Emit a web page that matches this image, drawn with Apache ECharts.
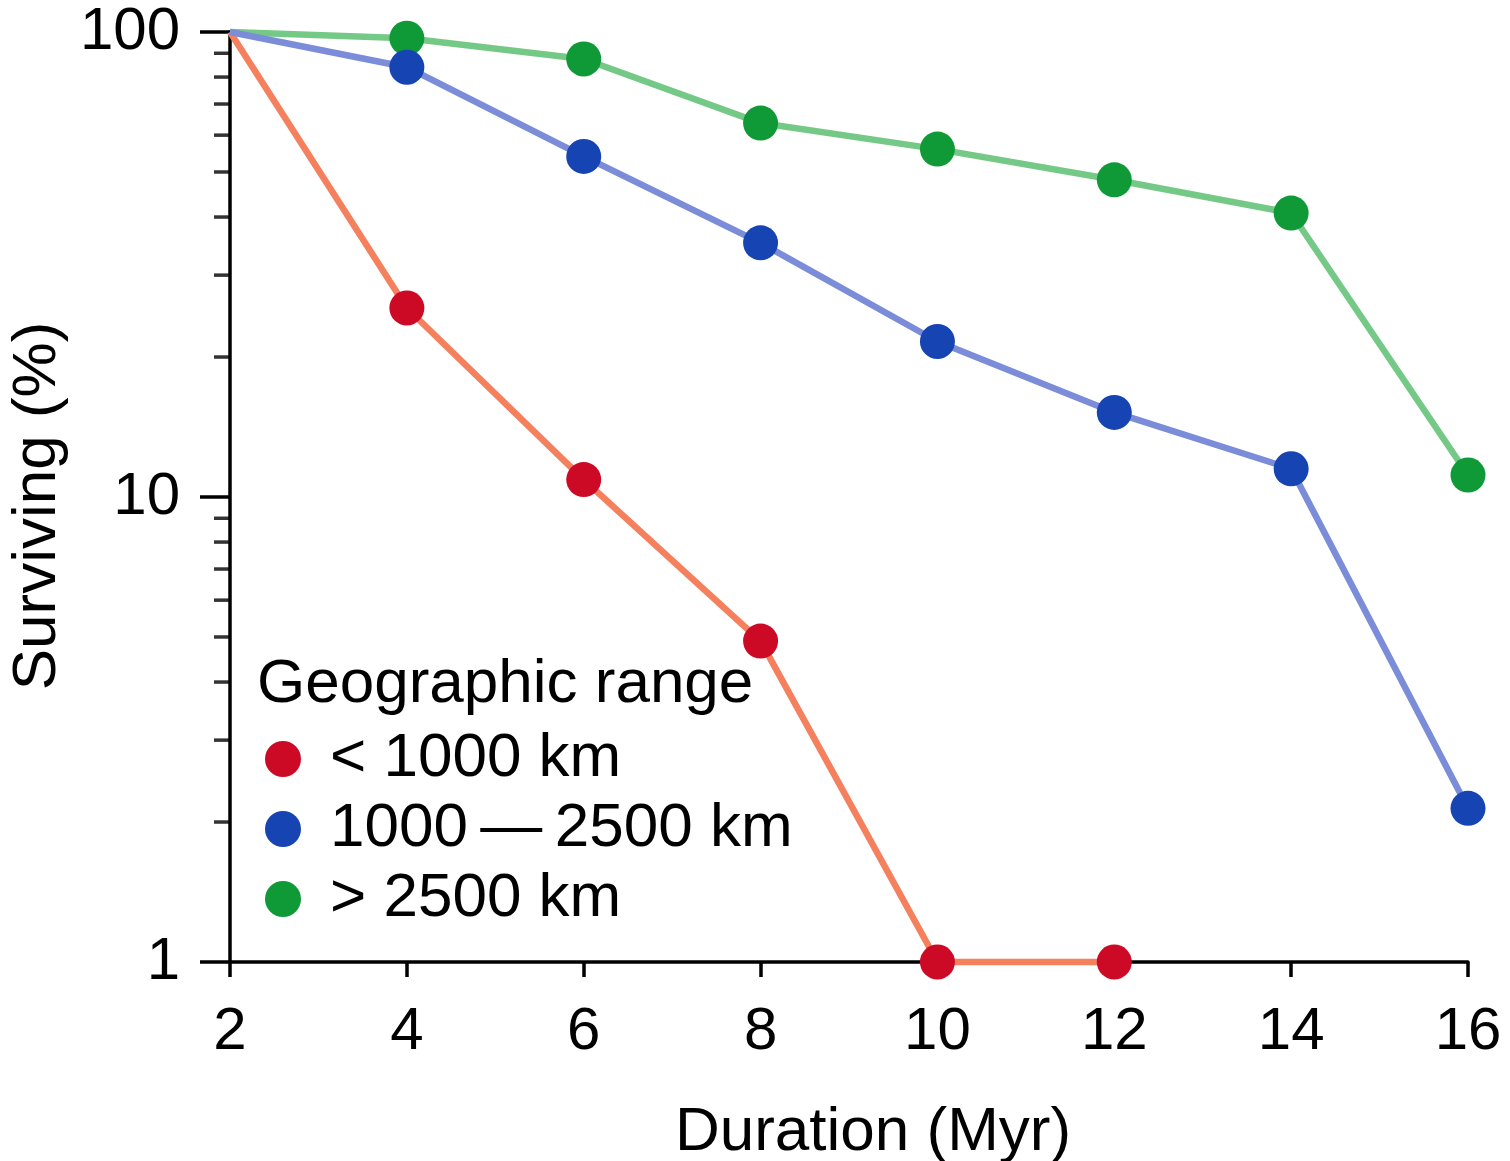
<!DOCTYPE html>
<html>
<head>
<meta charset="utf-8">
<script src="https://cdn.jsdelivr.net/npm/echarts@6/dist/echarts.min.js"></script>
<style>
html,body{margin:0;padding:0;background:#fff;}
#main{width:1510px;height:1161px;}
</style>
</head>
<body>
<div id="main"></div>
<script>
// ---- data ----
const durations = [2, 4, 6, 8, 10, 12, 14, 16];
const smallRange = [100, 25.5, 10.9, 4.9, 1, 1];            // < 1000 km
const midRange = [100, 84, 54, 35.2, 21.6, 15.2, 11.5, 2.14]; // 1000–2500 km
const largeRange = [100, 97, 87.5, 63.7, 56, 48.1, 40.8, 11.15]; // > 2500 km
const seriesNames = ['< 1000 km', '1000\u2009\u2014\u20092500 km', '> 2500 km'];
const minorTickValues = [2, 3, 4, 5, 6, 7, 8, 9, 20, 30, 40, 50, 60, 70, 80, 90];

const FONT = '"Liberation Sans", Arial, Helvetica, sans-serif';

function pairs(vals) { return vals.map((v, i) => [durations[i], v]); }

function lineSeries(name, vals, lineColor, dotColor, z) {
  return {
    name: name,
    type: 'line',
    data: pairs(vals),
    symbol: (value, params) => params.dataIndex === 0 ? 'none' : 'circle',
    symbolSize: 35,
    showAllSymbol: true,
    clip: false,
    z: z,
    lineStyle: { color: lineColor, width: 6.5 },
    itemStyle: { color: dotColor },
    emphasis: { disabled: true }
  };
}

const chart = echarts.init(document.getElementById('main'), null, { renderer: 'canvas' });
chart.setOption({
  animation: false,
  backgroundColor: '#ffffff',
  textStyle: { fontFamily: FONT },
  grid: { left: 230, right: 42, top: 32, bottom: 199, containLabel: false, outerBoundsMode: 'none' },
  title: {
    text: 'Geographic range',
    left: 252,
    top: 649,
    textStyle: { fontFamily: FONT, fontSize: 62, fontWeight: 'normal', color: '#000' }
  },
  legend: {
    data: [seriesNames[0], seriesNames[1], seriesNames[2]],
    orient: 'vertical',
    left: 260,
    top: 723,
    icon: 'circle',
    itemWidth: 36,
    itemHeight: 36,
    itemGap: 8,
    textStyle: { fontFamily: FONT, fontSize: 62, color: '#000', lineHeight: 60, padding: [0, 0, 0, 24] },
    selectedMode: false
  },
  xAxis: {
    type: 'value',
    min: 2,
    max: 16,
    interval: 2,
    name: 'Duration (Myr)',
    nameLocation: 'middle',
    nameGap: 140,
    nameTextStyle: { fontFamily: FONT, fontSize: 62, color: '#000', padding: [0, 0, 0, 48] },
    axisLine: { show: true, lineStyle: { color: '#000', width: 3.5 } },
    axisTick: { show: true, length: 15, lineStyle: { color: '#000', width: 3.5 } },
    axisLabel: { fontFamily: FONT, fontSize: 60, color: '#000', margin: 40 },
    splitLine: { show: false }
  },
  yAxis: {
    type: 'log',
    logBase: 10,
    min: 1,
    max: 100,
    name: 'Surviving (%)',
    nameLocation: 'middle',
    nameGap: 155,
    nameTextStyle: { fontFamily: FONT, fontSize: 62, color: '#000', padding: [0, 18, 0, 0] },
    axisLine: { show: true, lineStyle: { color: '#000', width: 3.5 } },
    axisTick: { show: true, length: 30, lineStyle: { color: '#000', width: 3.5 } },
    axisLabel: { fontFamily: FONT, fontSize: 60, color: '#000', margin: 50 },
    splitLine: { show: false }
  },
  series: [
    {
      name: 'minorTicks',
      type: 'scatter',
      data: minorTickValues.map(v => [2, v]),
      symbol: 'rect',
      symbolSize: [16, 3.5],
      symbolOffset: [-8, 0],
      itemStyle: { color: '#000' },
      silent: true,
      clip: false,
      z: 1,
      emphasis: { disabled: true },
      tooltip: { show: false }
    },
    lineSeries(seriesNames[0], smallRange, '#f5805e', '#cc0a26', 2),
    lineSeries(seriesNames[2], largeRange, '#75c986', '#0f9a37', 3),
    lineSeries(seriesNames[1], midRange, '#7b8cd8', '#1744b3', 4)
  ]
});
</script>
</body>
</html>
